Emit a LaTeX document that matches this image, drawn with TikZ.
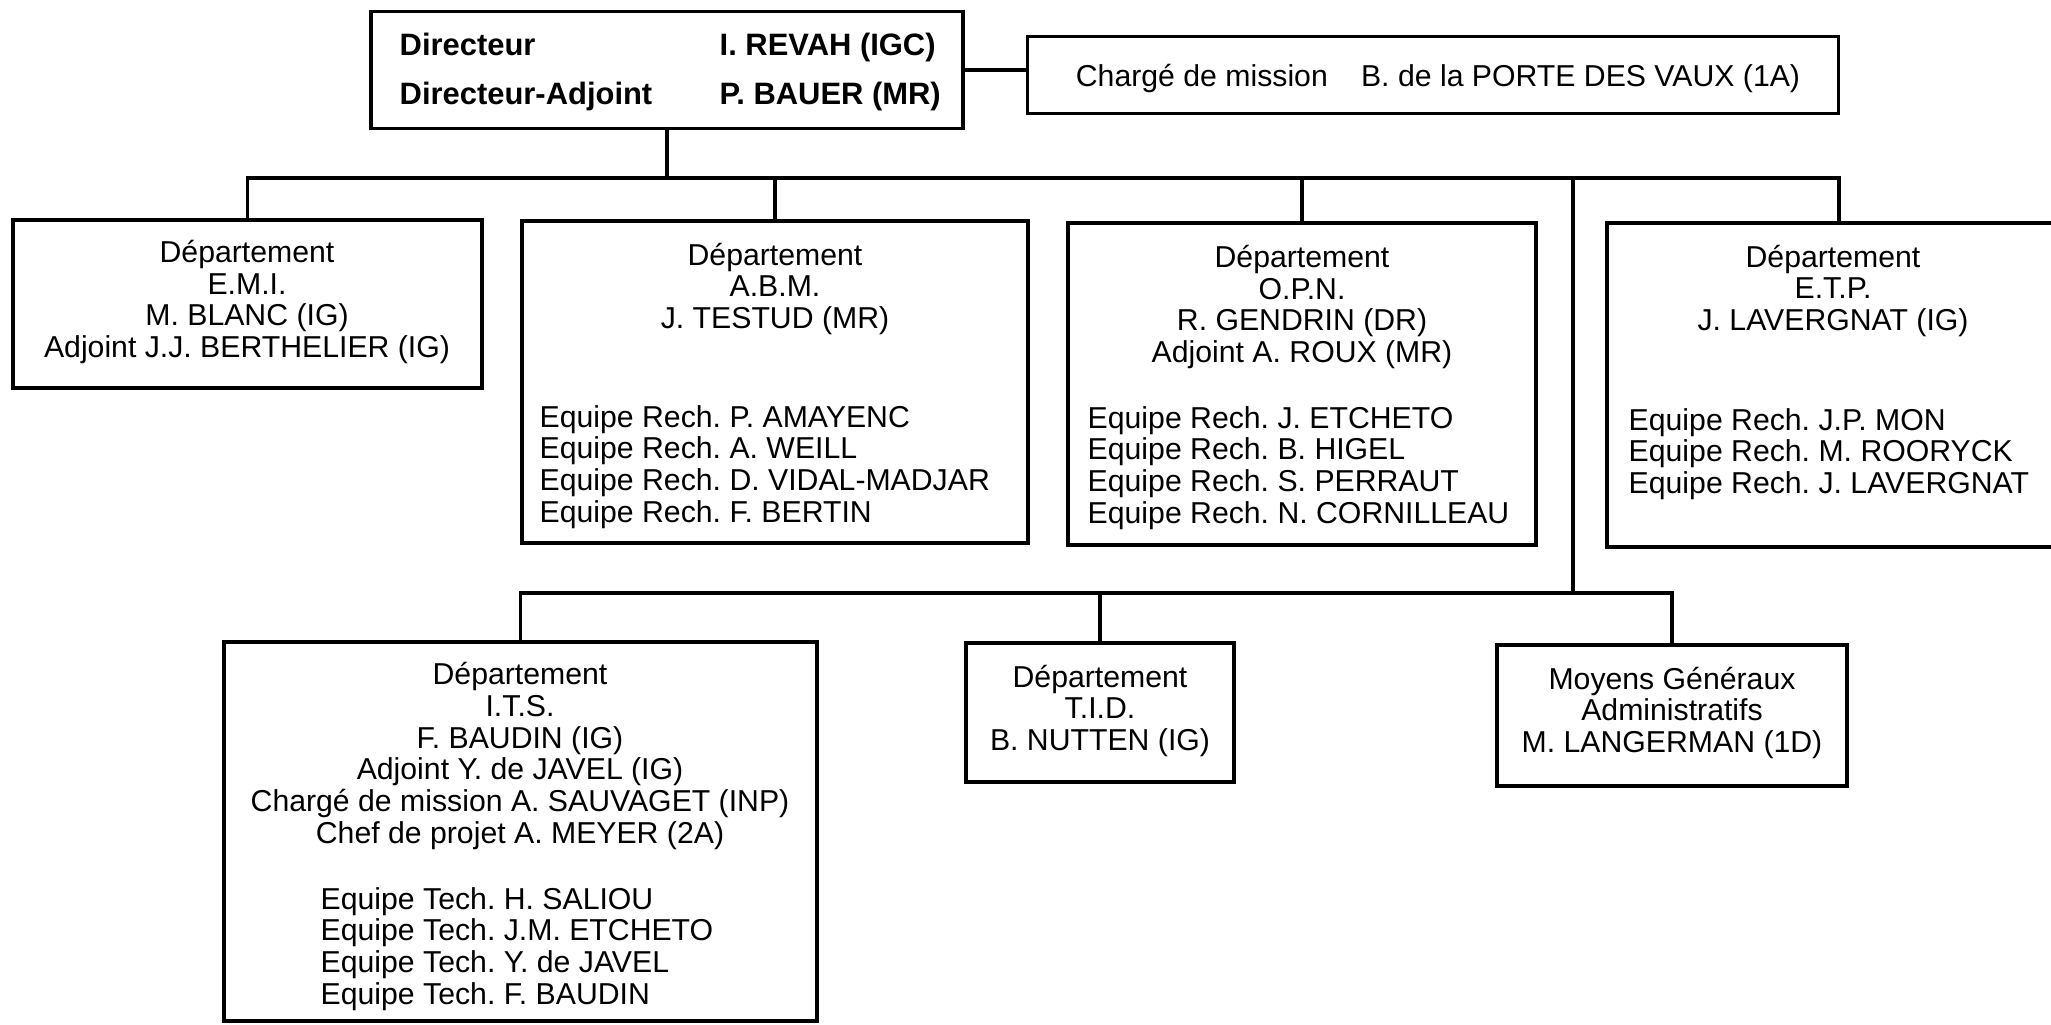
\documentclass[tikz,border=0pt]{standalone}
\usepackage{fontspec}
\setmainfont{Liberation Sans}
\usepackage{tikz}
\usetikzlibrary{positioning}
\frenchspacing

\newcommand{\orgfont}{\fontsize{8.6}{9}\selectfont}
\newcommand{\dirfont}{\fontsize{8.8}{13.8}\selectfont\bfseries}

\tikzset{
  box/.style={draw, line width=0.9pt, inner sep=0pt},
  txt/.style={font=\orgfont, align=center, inner sep=0pt},
  lst/.style={font=\orgfont, align=left, inner sep=0pt, anchor=west},
  link/.style={line width=0.9pt},
}

\begin{document}
\begin{tikzpicture}[x=0.1mm,y=-0.1mm]
\useasboundingbox (0,0) rectangle (2051,1025);

% direction
\node[box, minimum width=59.2mm, minimum height=11.7mm] (dir) at (667,70) {};
\node[lst, font=\dirfont] (dirrole) at (399,72) {Directeur\\Directeur-Adjoint};
\node[lst, font=\dirfont] (dirname) at (719,72) {I. REVAH (IGC)\\P. BAUER (MR)};
\node[box, minimum width=81.1mm, minimum height=7.7mm] (charge) at (1433,75) {};
\node[txt, font=\fontsize{8.6}{9}\selectfont] (chargetxt) at (1438,79)
  {Charg\'e de mission\hspace{1.1em}B. de la PORTE DES VAUX (1A)};

% first row
\node[box, minimum width=46.9mm, minimum height=16.8mm] (emi) at (247.5,304) {};
\node[txt] (emitxt) at (247,302) {D\'epartement\\E.M.I.\\M. BLANC (IG)\\Adjoint J.J. BERTHELIER (IG)};

\node[box, minimum width=50.6mm, minimum height=32.2mm] (abm) at (775,382) {};
\node[txt] (abmtxt) at (775,289) {D\'epartement\\A.B.M.\\J. TESTUD (MR)};
\node[lst] (abmeq) at (539,467) {Equipe Rech. P. AMAYENC\\Equipe Rech. A. WEILL\\Equipe Rech. D. VIDAL-MADJAR\\Equipe Rech. F. BERTIN};

\node[box, minimum width=46.8mm, minimum height=32.2mm] (opn) at (1302,384) {};
\node[txt] (opntxt) at (1302,307) {D\'epartement\\O.P.N.\\R. GENDRIN (DR)\\Adjoint A. ROUX (MR)};
\node[lst] (opneq) at (1087,468) {Equipe Rech. J. ETCHETO\\Equipe Rech. B. HIGEL\\Equipe Rech. S. PERRAUT\\Equipe Rech. N. CORNILLEAU};

\node[box, minimum width=46.4mm, minimum height=32.4mm] (etp) at (1839,385) {};
\node[txt] (etptxt) at (1833,291) {D\'epartement\\E.T.P.\\J. LAVERGNAT (IG)};
\node[lst] (etpeq) at (1628,454) {Equipe Rech. J.P. MON\\Equipe Rech. M. ROORYCK\\Equipe Rech. J. LAVERGNAT};

% second row
\node[box, minimum width=59.3mm, minimum height=37.9mm] (its) at (520.5,831.5) {};
\node[txt] (itstxt) at (520,756) {D\'epartement\\I.T.S.\\F. BAUDIN (IG)\\Adjoint Y. de JAVEL (IG)\\Charg\'e de mission A. SAUVAGET (INP)\\Chef de projet A. MEYER (2A)};
\node[lst] (itseq) at (320,949) {Equipe Tech. H. SALIOU\\Equipe Tech. J.M. ETCHETO\\Equipe Tech. Y. de JAVEL\\Equipe Tech. F. BAUDIN};

\node[box, minimum width=26.8mm, minimum height=13.9mm] (tid) at (1100,712.5) {};
\node[txt] (tidtxt) at (1100,711) {D\'epartement\\T.I.D.\\B. NUTTEN (IG)};

\node[box, minimum width=35.0mm, minimum height=14.1mm] (moy) at (1672,715.5) {};
\node[txt] (moytxt) at (1672,713) {Moyens G\'en\'eraux\\Administratifs\\M. LANGERMAN (1D)};

% links
\coordinate (bus) at (667,178);
\coordinate (split) at (1573,178);
\coordinate (bus2) at (1573,593);
\draw[link] (dir.east) -- (dir.east -| charge.west);
\draw[link] (dir.south) -- (bus);
\draw[link] (emi.north) |- (bus) -| (etp.north);
\draw[link] (abm.north) -- (abm.north |- bus);
\draw[link] (opn.north) -- (opn.north |- bus);
\draw[link] (split) -- (bus2);
\draw[link] (its.north) |- (bus2) -| (moy.north);
\draw[link] (tid.north) -- (tid.north |- bus2);
\end{tikzpicture}
\end{document}
